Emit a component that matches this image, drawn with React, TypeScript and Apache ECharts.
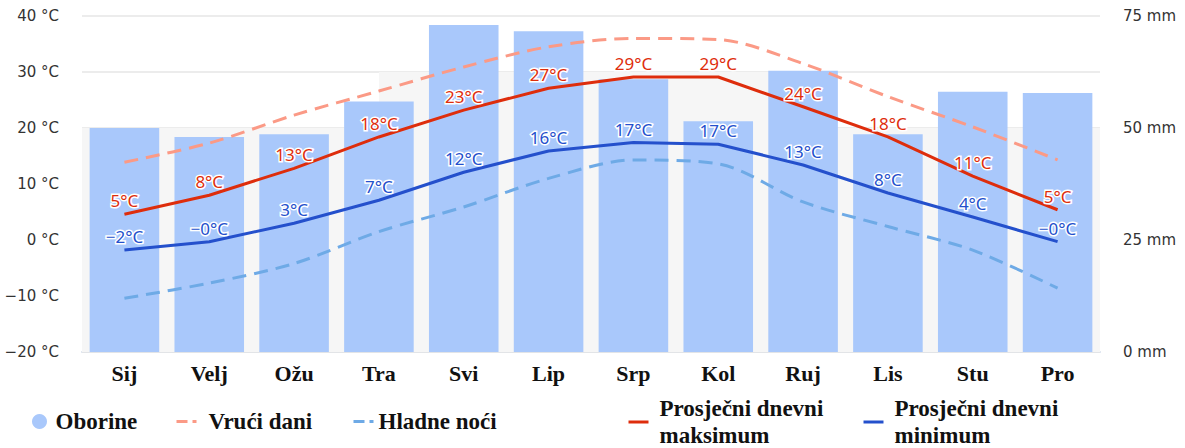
import React, { useEffect, useRef } from "react";
import * as echarts from "echarts";

// Monthly climate data
const months = ["Sij", "Velj", "Ožu", "Tra", "Svi", "Lip", "Srp", "Kol", "Ruj", "Lis", "Stu", "Pro"];
const precipitation = [50, 48, 48.6, 55.9, 73, 71.6, 60.9, 51.5, 62.8, 48.6, 58.1, 57.8];
const hotDays = [13.9, 17.3, 22.3, 26.6, 30.9, 34.5, 36.0, 35.8, 31.5, 25.6, 20.2, 14.3];
const coldNights = [-10.4, -7.7, -4.2, 1.5, 5.9, 11.0, 14.3, 13.6, 6.8, 2.4, -1.8, -8.6];
const maxTemp = [4.6, 8.0, 12.8, 18.4, 23.2, 27.1, 29.1, 29.1, 23.8, 18.4, 11.4, 5.4];
const minTemp = [-1.8, -0.3, 3.0, 7.1, 12.1, 15.9, 17.4, 17.1, 13.4, 8.4, 4.1, -0.3];

const tempTicks = { min: -20, max: 40, interval: 10 };
const rainTicks = { min: 0, max: 75, interval: 25 };

const C = {
  bar: "#a9c8fb",
  hot: "#fb9a86",
  cold: "#6eaae6",
  max: "#de2d0c",
  min: "#2450cc",
  grid: "#e6e6e6",
  band: "#f6f6f6",
};

const minus = (s: string) => s.replace("-", "\u2212");
const degLabel = (v: number) => minus(v.toFixed(0)) + "°C";

const serifBold = { fontFamily: "Liberation Serif", fontWeight: "bold" as const };
const legendText = { ...serifBold, fontSize: 23, color: "#111", lineHeight: 27 };

export default function App() {
  const ref = useRef<HTMLDivElement>(null);

  useEffect(() => {
    if (!ref.current) return;
    const chart = echarts.init(ref.current, undefined, { renderer: "svg" });

    const valueLabel = (color: string) => ({
      show: true,
      position: "top" as const,
      distance: 5,
      color,
      fontFamily: "Noto Sans",
      fontSize: 17,
      textBorderColor: "#fff",
      textBorderWidth: 3,
      formatter: (p: any) => degLabel(p.value),
    });

    const legendBase = {
      itemWidth: 20,
      itemHeight: 15,
      padding: 0,
      selectedMode: false,
    };
    // line entries show only their stroke, no point marker
    const lineLegend = {
      ...legendBase,
      itemStyle: { opacity: 0 },
    };

    chart.setOption({
      animation: false,
      grid: { left: 82, right: 85, top: 16, bottom: 96 },
      legend: [
        {
          ...legendBase,
          data: [{ name: "Oborine", icon: "circle" }],
          left: 32,
          top: 408,
          textStyle: { ...legendText, padding: [0, 0, 0, 1] },
        },
        {
          ...lineLegend,
          data: ["Vrući dani"],
          left: 175,
          top: 408,
          lineStyle: { width: 3, type: [11, 5] },
          textStyle: { ...legendText, padding: [0, 0, 0, 7] },
        },
        {
          ...lineLegend,
          data: ["Hladne noći"],
          left: 352,
          top: 408,
          lineStyle: { width: 3, type: [11, 5] },
          textStyle: { ...legendText },
        },
        {
          ...lineLegend,
          data: ["Prosječni dnevni maksimum"],
          left: 627,
          top: 395,
          lineStyle: { width: 3 },
          formatter: () => "Prosječni dnevni\nmaksimum",
          textStyle: { ...legendText, padding: [0, 0, 0, 6] },
        },
        {
          ...lineLegend,
          data: ["Prosječni dnevni minimum"],
          left: 862,
          top: 395,
          lineStyle: { width: 3 },
          formatter: () => "Prosječni dnevni\nminimum",
          textStyle: { ...legendText, padding: [0, 0, 0, 6] },
        },
      ],
      xAxis: {
        type: "category",
        data: months,
        axisTick: { show: false },
        axisLine: { onZero: false, lineStyle: { color: "#d8e0ec", width: 2 } },
        axisLabel: { ...serifBold, fontSize: 22, color: "#111", margin: 10 },
      },
      yAxis: [
        {
          type: "value",
          ...tempTicks,
          z: 1,
          axisLine: { show: false },
          axisTick: { show: false },
          splitLine: { lineStyle: { color: C.grid, width: 1.5 } },
          axisLabel: {
            fontFamily: "DejaVu Sans",
            fontSize: 15,
            color: "#333",
            margin: 23,
            formatter: (v: number) => minus(String(v)) + " °C",
          },
        },
        {
          type: "value",
          ...rainTicks,
          position: "right",
          axisLine: { show: false },
          axisTick: { show: false },
          splitLine: { show: false },
          axisLabel: {
            fontFamily: "DejaVu Sans",
            fontSize: 15,
            color: "#333",
            margin: 23,
            formatter: (v: number) => v + " mm",
          },
        },
      ],
      series: [
        {
          // light background bands behind the plot
          name: "pozadina",
          type: "line",
          z: -1,
          data: months.map(() => null),
          symbol: "none",
          silent: true,
          markArea: {
            silent: true,
            itemStyle: { color: C.band, opacity: 1 },
            data: [
              [{ yAxis: -20 }, { yAxis: 20 }],
              [
                { xAxis: "Tra", yAxis: 20 },
                { xAxis: "Ruj", yAxis: 30 },
              ],
            ],
          },
        },
        {
          name: "Oborine",
          type: "bar",
          yAxisIndex: 1,
          data: precipitation,
          barCategoryGap: "18%",
          itemStyle: { color: C.bar },
        },
        {
          name: "Vrući dani",
          type: "line",
          data: hotDays,
          symbol: "none",
          smooth: 0.3,
          lineStyle: { color: C.hot, width: 3, type: [14, 8] },
          itemStyle: { color: C.hot },
        },
        {
          name: "Hladne noći",
          type: "line",
          data: coldNights,
          symbol: "none",
          smooth: 0.3,
          lineStyle: { color: C.cold, width: 3, type: [14, 8] },
          itemStyle: { color: C.cold },
        },
        {
          name: "Prosječni dnevni maksimum",
          type: "line",
          data: maxTemp,
          symbol: "circle",
          symbolSize: 0.1,
          showSymbol: true,
          lineStyle: { color: C.max, width: 3 },
          itemStyle: { color: C.max },
          label: valueLabel(C.max),
          z: 4,
        },
        {
          name: "Prosječni dnevni minimum",
          type: "line",
          data: minTemp,
          symbol: "circle",
          symbolSize: 0.1,
          showSymbol: true,
          lineStyle: { color: C.min, width: 3 },
          itemStyle: { color: C.min },
          label: valueLabel(C.min),
          z: 4,
        },
      ],
    });

    return () => chart.dispose();
  }, []);

  return (
    <div
      ref={ref}
      style={{ position: "fixed", left: 0, top: 0, width: 1185, height: 448, background: "#fff" }}
    />
  );
}
